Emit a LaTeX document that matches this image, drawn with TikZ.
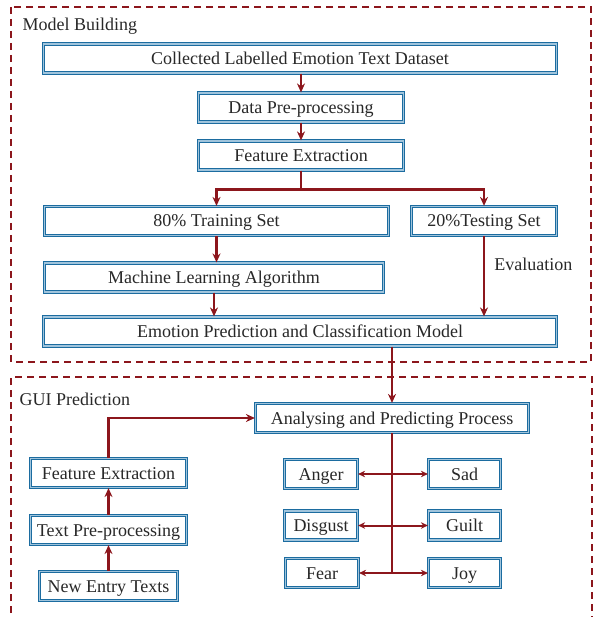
\documentclass[tikz,border=0pt]{standalone}
\usepackage{fontspec}
\setmainfont{Liberation Serif}
\usepackage{tikz}
\usetikzlibrary{calc,arrows.meta}
\definecolor{framered}{RGB}{140,22,28}
\definecolor{boxblue}{RGB}{28,108,160}
\definecolor{boxlight}{RGB}{160,196,220}
\definecolor{txtgray}{RGB}{40,40,40}

\begin{document}
\begin{tikzpicture}[x=1pt,y=-1pt,
    every node/.style={font=\fontsize{18}{21}\selectfont,text=txtgray},
    box/.style={draw=boxblue,double=boxlight,double distance=1.3pt,line width=1.2pt,
        fill=white,minimum height=29pt,inner sep=1pt,text height=14pt,text depth=2pt},
    frame/.style={draw=framered,line width=1.6pt,dash pattern=on 7pt off 5pt},
    arr/.style={draw=framered,line width=2.2pt,-{Stealth[length=9pt,width=8pt]}},
    biarr/.style={draw=framered,line width=2pt,{Stealth[length=7pt,width=6.5pt]}-{Stealth[length=7pt,width=6.5pt]}}]
    \useasboundingbox (0,0) rectangle (595,617);
        \draw[frame] (11,7) rectangle (591,362);
        \draw[frame] (11,625) |- (592,377) -- (592,625);
        \node[anchor=west] (mb) at (19,26) {Model Building};
        \node[anchor=west] (gp) at (16,399) {GUI Prediction};

        \node[box,minimum width=513pt] (ds) at (300,58.5) {Collected Labelled Emotion Text Dataset};
        \node[box,minimum width=205pt] (pre) at (301,107.5) {Data Pre-processing};
        \node[box,minimum width=205pt] (fe) at (301,155.5) {Feature Extraction};
        \node[box,minimum width=344pt] (train) at (216.5,221) {80\% Training Set};
        \node[box,minimum width=145pt] (test) at (484,221) {20\%Testing Set};
        \node[box,minimum width=339pt] (mla) at (214,277.5) {Machine Learning Algorithm};
        \node[box,minimum width=513pt] (epc) at (300,331.5) {Emotion Prediction and Classification Model};

        \node[box,minimum width=273pt] (ana) at (392,418) {Analysing and Predicting Process};
        \node[box,minimum width=156pt] (gfe) at (108.5,473) {Feature Extraction};
        \node[box,minimum width=156pt] (tpp) at (108.5,530) {Text Pre-processing};
        \node[box,minimum width=138pt] (new) at (108.5,586) {New Entry Texts};

        \node[box,minimum width=73pt] (anger) at (321,474) {Anger};
        \node[box,minimum width=72pt] (sad) at (464.5,474) {Sad};
        \node[box,minimum width=73pt] (disgust) at (321,525.5) {Disgust};
        \node[box,minimum width=72pt] (guilt) at (464.5,525.5) {Guilt};
        \node[box,minimum width=73pt] (fear) at (322,573) {Fear};
        \node[box,minimum width=72pt] (joy) at (464.5,573) {Joy};

        \draw[arr] (ds.south -| pre.north) -- (pre.north);
        \draw[arr] (pre) -- (fe);
        \coordinate (split) at ($(fe.south)+(0,19)$);
        \draw[arr] (fe.south) -- (split) -| (train.north);
        \draw[arr] (split) -| (test.north);
        \draw[arr] (train.south) -- (train.south |- mla.north);
        \draw[arr] (mla.south) -- (mla.south |- epc.north);
        \draw[arr] (test.south) -- (test.south |- epc.north)
            node[pos=0.35,right=6pt,text=txtgray] {Evaluation};
        \draw[arr] (epc.south -| ana.north) -- (ana.north);

        \draw[arr] (new) -- (tpp);
        \draw[arr] (tpp) -- (gfe);
        \draw[arr] (gfe.north) |- (ana.west);

        \draw[draw=framered,line width=2.2pt] (ana.south) -- (ana.south |- fear.east);
    \foreach \l/\r in {anger/sad,disgust/guilt,fear/joy}{
        \draw[biarr] (\l.east) -- (\r.west);
    }
\end{tikzpicture}
\end{document}
